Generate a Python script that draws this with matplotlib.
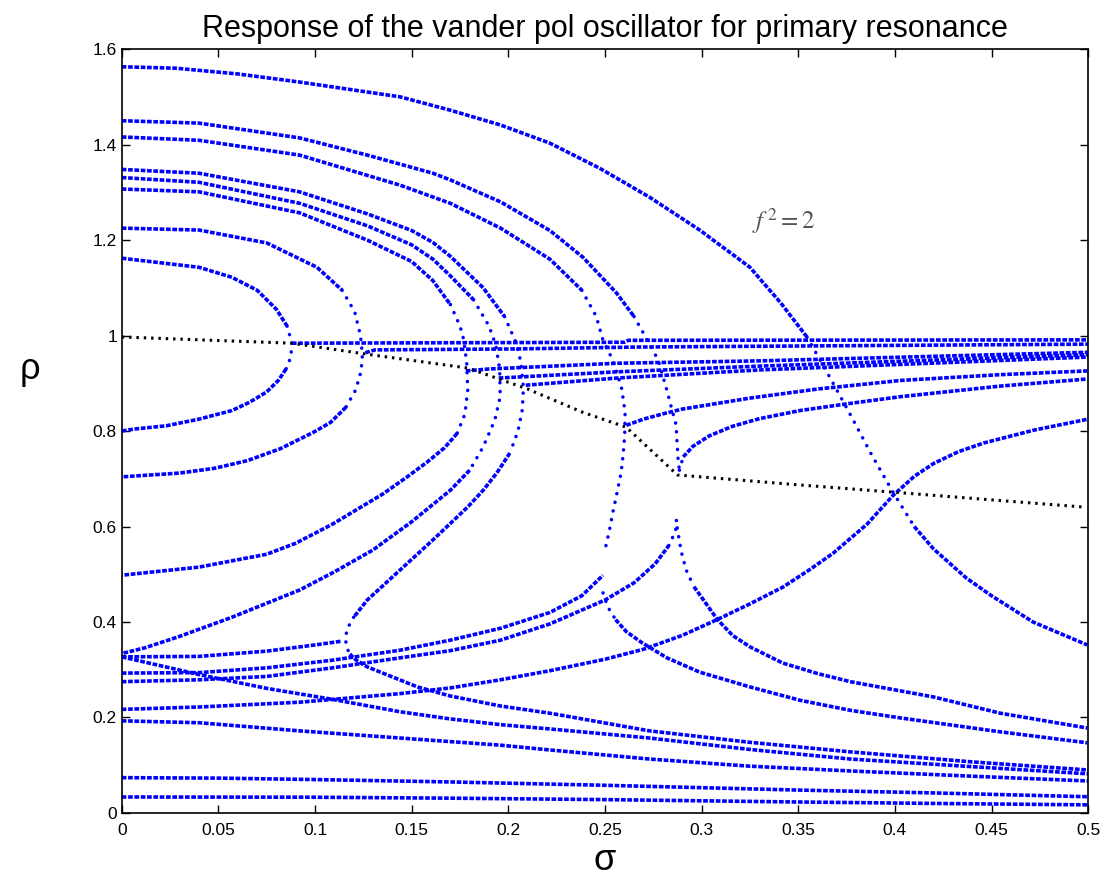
import numpy as np
import matplotlib.pyplot as plt

# ---------------------------------------------------------------
# Response curves (sigma, rho)
# ---------------------------------------------------------------
# f^2 = 2 outer curve
curve_a = [(0, 1.563), (0.028, 1.56), (0.06, 1.548), (0.092, 1.531), (0.144, 1.50), (0.170, 1.472),
           (0.196, 1.441), (0.2215, 1.403), (0.247, 1.351), (0.273, 1.290), (0.299, 1.221),
           (0.325, 1.143), (0.341, 1.068), (0.3545, 0.997), (0.366, 0.915), (0.377, 0.834),
           (0.388, 0.75), (0.399, 0.672), (0.41, 0.60), (0.42, 0.553), (0.437, 0.492),
           (0.45, 0.455), (0.4715, 0.40), (0.4995, 0.352)]

curve_145 = [(0, 1.45), (0.04, 1.445), (0.092, 1.414), (0.127, 1.378), (0.161, 1.34),
             (0.17, 1.326), (0.196, 1.28), (0.2215, 1.22), (0.2386, 1.164), (0.256, 1.089),
             (0.265, 1.04), (0.272, 0.99), (0.2775, 0.949), (0.282, 0.886), (0.2847, 0.844),
             (0.2868, 0.813), (0.2873, 0.775), (0.2878, 0.743), (0.2885, 0.718)]

curve_142 = [(0, 1.416), (0.04, 1.409), (0.092, 1.378), (0.144, 1.315), (0.17, 1.277),
             (0.196, 1.225), (0.2215, 1.16), (0.238, 1.095), (0.2455, 1.04), (0.249, 0.99),
             (0.254, 0.949), (0.2585, 0.892), (0.2604, 0.84), (0.2602, 0.79), (0.2593, 0.746),
             (0.2583, 0.712), (0.2565, 0.676), (0.2541, 0.63), (0.2522, 0.59), (0.25, 0.551)]

# isolas / closed curves for small forcing
curve_135 = [(0, 1.348), (0.04, 1.340), (0.092, 1.301), (0.127, 1.255), (0.15, 1.22),
             (0.161, 1.195), (0.17, 1.166), (0.187, 1.10), (0.198, 1.04), (0.2035, 0.99),
             (0.2065, 0.945), (0.2078, 0.89), (0.2072, 0.844), (0.205, 0.800), (0.2008, 0.754),
             (0.194, 0.712), (0.187, 0.676), (0.179, 0.641), (0.161, 0.572), (0.144, 0.509),
             (0.127, 0.446), (0.12, 0.41), (0.1165, 0.385), (0.1158, 0.365),
             (0.1162, 0.348), (0.118, 0.333), (0.121, 0.321), (0.127, 0.306), (0.14, 0.285),
             (0.153, 0.264), (0.17, 0.245), (0.196, 0.224), (0.2215, 0.209), (0.273, 0.172),
             (0.325, 0.148), (0.377, 0.128), (0.44, 0.107), (0.5, 0.090)]

curve_133 = [(0, 1.331), (0.04, 1.321), (0.092, 1.277), (0.127, 1.23), (0.15, 1.19),
             (0.161, 1.16), (0.17, 1.125), (0.182, 1.075), (0.19, 1.02), (0.1935, 0.98),
             (0.1955, 0.93), (0.1958, 0.872), (0.193, 0.823), (0.187, 0.767), (0.18, 0.718),
             (0.17, 0.676), (0.15, 0.61), (0.13, 0.551), (0.11, 0.505), (0.092, 0.467),
             (0.057, 0.41), (0.03, 0.37), (0.012, 0.346), (0, 0.334)]

curve_131 = [(0, 1.307), (0.04, 1.301), (0.092, 1.257), (0.127, 1.2), (0.15, 1.155),
             (0.161, 1.115), (0.17, 1.065), (0.175, 1.02), (0.177, 0.99), (0.1785, 0.94),
             (0.179, 0.886), (0.1775, 0.835), (0.1735, 0.795), (0.167, 0.765), (0.158, 0.735),
             (0.148, 0.705), (0.135, 0.668), (0.109, 0.605), (0.09, 0.565), (0.075, 0.542),
             (0.04, 0.515), (0, 0.498)]

curve_123 = [(0, 1.225), (0.04, 1.221), (0.075, 1.194), (0.101, 1.143), (0.114, 1.095),
             (0.1205, 1.05), (0.1235, 1.0), (0.1245, 0.959), (0.1238, 0.925), (0.121, 0.886),
             (0.116, 0.85), (0.108, 0.818), (0.099, 0.797), (0.082, 0.763), (0.065, 0.738),
             (0.048, 0.722), (0.03, 0.712), (0, 0.704)]

curve_116 = [(0, 1.162), (0.04, 1.143), (0.057, 1.122), (0.07, 1.095), (0.08, 1.055),
             (0.0855, 1.02), (0.088, 0.985), (0.0875, 0.955), (0.085, 0.93), (0.081, 0.906),
             (0.075, 0.882), (0.066, 0.86), (0.057, 0.843), (0.040, 0.825), (0.023, 0.811),
             (0.006, 0.804), (0, 0.80)]

# near-horizontal branches starting at the turning points
h1 = [(0.088, 0.984), (0.26, 0.986), (0.262, 0.990), (0.5, 0.991)]
h2 = [(0.126, 0.964), (0.131, 0.970), (0.204, 0.972), (0.268, 0.976), (0.5, 0.982)]
h3 = [(0.178, 0.926), (0.19, 0.93), (0.256, 0.942), (0.33, 0.947), (0.5, 0.965)]
h4 = [(0.195, 0.911), (0.256, 0.924), (0.33, 0.936), (0.5, 0.960)]
h5 = [(0.209, 0.896), (0.256, 0.911), (0.33, 0.928), (0.5, 0.955)]

rise_a = [(0.261, 0.812), (0.27, 0.825), (0.28, 0.836), (0.290, 0.846), (0.325, 0.869),
          (0.36, 0.888), (0.403, 0.906), (0.454, 0.918), (0.4995, 0.926)]
rise_b = [(0.2885, 0.718), (0.2905, 0.746), (0.2955, 0.768), (0.304, 0.79), (0.316, 0.81),
          (0.330, 0.826), (0.351, 0.843), (0.377, 0.858), (0.403, 0.872), (0.454, 0.894),
          (0.4995, 0.909)]

# lower branches
r1 = [(0, 0.217), (0.04, 0.222), (0.092, 0.232), (0.144, 0.25), (0.17, 0.262),
      (0.196, 0.279), (0.2215, 0.298), (0.25, 0.322), (0.27, 0.343), (0.29, 0.372),
      (0.308, 0.405), (0.325, 0.438), (0.342, 0.473), (0.356, 0.51), (0.368, 0.544),
      (0.3856, 0.605), (0.399, 0.665), (0.41, 0.705), (0.42, 0.732), (0.433, 0.757),
      (0.446, 0.775), (0.472, 0.802), (0.5, 0.825)]
r2 = [(0, 0.293), (0.04, 0.294), (0.075, 0.304), (0.109, 0.32), (0.144, 0.341),
      (0.17, 0.362), (0.196, 0.387), (0.2215, 0.42), (0.238, 0.455), (0.249, 0.498)]
r3 = [(0, 0.275), (0.04, 0.279), (0.075, 0.286), (0.109, 0.304), (0.144, 0.325),
      (0.17, 0.34), (0.196, 0.362), (0.2215, 0.396), (0.25, 0.446), (0.265, 0.482),
      (0.276, 0.522), (0.283, 0.56), (0.2865, 0.59), (0.287, 0.614), (0.2875, 0.593),
      (0.2895, 0.547), (0.292, 0.509), (0.296, 0.474), (0.301, 0.446), (0.308, 0.406),
      (0.316, 0.372), (0.325, 0.348), (0.342, 0.314), (0.36, 0.292), (0.377, 0.275),
      (0.42, 0.243), (0.4545, 0.209), (0.4995, 0.178)]
r4 = [(0, 0.327), (0.04, 0.328), (0.075, 0.339), (0.1, 0.352), (0.114, 0.36)]
d1 = [(0.249, 0.461), (0.2515, 0.431), (0.2555, 0.405), (0.261, 0.38), (0.269, 0.357),
      (0.282, 0.325), (0.299, 0.295), (0.325, 0.264), (0.351, 0.236), (0.377, 0.215),
      (0.403, 0.199), (0.4545, 0.17), (0.4995, 0.147)]
d0 = [(0, 0.327), (0.04, 0.29), (0.075, 0.261), (0.109, 0.238), (0.144, 0.212),
      (0.17, 0.197), (0.196, 0.185), (0.2215, 0.176), (0.273, 0.157), (0.325, 0.133),
      (0.377, 0.113), (0.44, 0.097), (0.5, 0.082)]
l3 = [(0, 0.193), (0.04, 0.189), (0.092, 0.172), (0.144, 0.157), (0.196, 0.142),
      (0.2215, 0.132), (0.273, 0.113), (0.325, 0.098), (0.377, 0.088), (0.44, 0.077),
      (0.5, 0.067)]
l2 = [(0, 0.074), (0.05, 0.073), (0.1, 0.07), (0.17, 0.065), (0.25, 0.058),
      (0.35, 0.048), (0.42, 0.042), (0.5, 0.034)]
l1 = [(0, 0.0335), (0.1, 0.033), (0.17, 0.031), (0.25, 0.028), (0.35, 0.023),
      (0.42, 0.02), (0.5, 0.017)]

# black dotted boundary
boundary = [(0, 0.997), (0.088, 0.984), (0.125, 0.962), (0.179, 0.932), (0.21, 0.888),
            (0.238, 0.840), (0.261, 0.808), (0.2875, 0.708), (0.351, 0.687), (0.399, 0.672),
            (0.497, 0.641)]

curves = [curve_a, curve_145, curve_142, curve_135, curve_133, curve_131, curve_123,
          curve_116, h1, h2, h3, h4, h5, rise_a, rise_b, r1, r2, r3, r4, d1, d0, l3, l2, l1]

x_ticks = [0, 0.05, 0.1, 0.15, 0.2, 0.25, 0.3, 0.35, 0.4, 0.45, 0.5]
x_tick_labels = ['0', '0.05', '0.1', '0.15', '0.2', '0.25', '0.3', '0.35', '0.4', '0.45', '0.5']
y_ticks = [0, 0.2, 0.4, 0.6, 0.8, 1, 1.2, 1.4, 1.6]
y_tick_labels = ['0', '0.2', '0.4', '0.6', '0.8', '1', '1.2', '1.4', '1.6']

plt.rcParams['font.family'] = ['Liberation Sans', 'DejaVu Sans']

fig = plt.figure(figsize=(11.07, 8.77), dpi=100)
ax = fig.add_axes([0.110, 0.073, 0.873, 0.871])
ax.set_xlim(0, 0.5)
ax.set_ylim(0, 1.6)

# flat parts are dense (dashed look), steep parts are sparse dots like the sampled data
flat_style = dict(color='#0000ff', lw=2.6, ls=(0, (1.3, 0.45)), solid_capstyle='butt',
                  dash_capstyle='butt')
steep_style = dict(color='#0000ff', lw=2.5, ls=(0, (0.05, 2.5)), dash_capstyle='round')

for c in curves:
    pts = np.array(c)
    px = ax.transData.transform(pts)
    run = [0]
    steep_prev = None
    for i in range(1, len(pts)):
        dx, dy = px[i] - px[i - 1]
        steep = abs(dy) > 1.6 * abs(dx)
        if steep_prev is not None and steep != steep_prev:
            st = steep_style if steep_prev else flat_style
            ax.plot(pts[run, 0], pts[run, 1], **st)
            run = [i - 1]
        run.append(i)
        steep_prev = steep
    st = steep_style if steep_prev else flat_style
    ax.plot(pts[run, 0], pts[run, 1], **st)

ax.plot([p[0] for p in boundary], [p[1] for p in boundary], color='k', lw=2.2,
        ls=(0, (0.8, 1.6)))

ax.set_xticks(x_ticks)
ax.set_xticklabels(x_tick_labels)
ax.set_yticks(y_ticks)
ax.set_yticklabels(y_tick_labels)
ax.tick_params(direction='in', top=True, right=True, length=6, width=1, labelsize=12.5)
ax.tick_params(axis='x', pad=7)
for sp in ax.spines.values():
    sp.set_linewidth(1.2)

ax.set_title('Response of the vander pol oscillator for primary resonance', fontsize=22, pad=9)
ax.text(0.5, -0.062, 'σ', fontsize=26, transform=ax.transAxes, ha='center', va='center')
ax.text(-0.095, 0.58, 'ρ', fontsize=26, transform=ax.transAxes, ha='center', va='center')

ax.text(0.326, 1.24, r'$f^{\,2} = 2$', fontsize=18, color='#555555', va='center',
        math_fontfamily='stix')

fig.savefig('out.png', dpi=100)
